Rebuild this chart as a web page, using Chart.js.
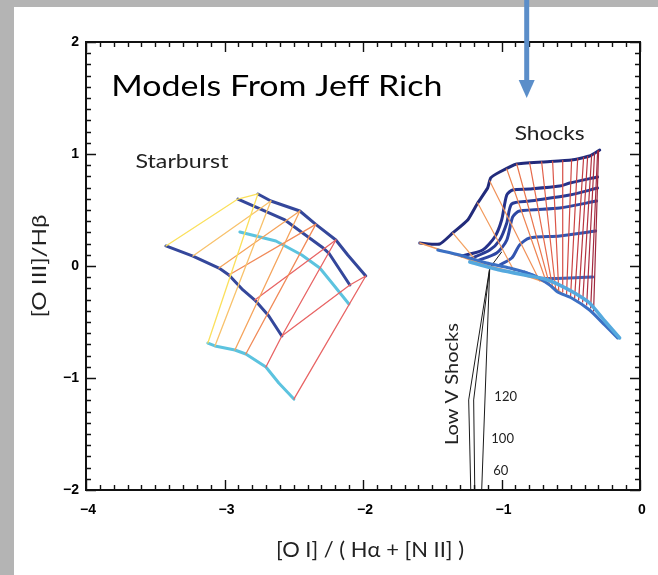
<!DOCTYPE html>
<html>
<head>
<meta charset="utf-8">
<script src="https://cdn.jsdelivr.net/npm/chart.js@4.4.1/dist/chart.umd.min.js"></script>
<style>
  html, body { margin: 0; padding: 0; background: #b4b4b4; }
  #sheet { position: absolute; left: 14px; top: 7px; width: 644px; height: 568px; background: #fff; }
  #wrap { position: absolute; left: 0; top: 0; width: 658px; height: 575px; }
</style>
</head>
<body>
<div id="sheet"></div>
<div id="wrap"><canvas id="chart" width="658" height="575"></canvas></div>
<script>
// axis ticks
const xTicks = [-4, -3, -2, -1, 0];
const yTicks = [2, 1, 0, -1, -2];

// ---- starburst grid ----
const sbRowA = [[-2.759,0.643],[-2.665,0.580],[-2.456,0.491],[-2.341,0.372],[-2.196,0.232],[-2.110,0.098],[-1.980,-0.089]];
const sbRowB = [[-2.903,0.598],[-2.564,0.411],[-2.297,0.170],[-2.247,0.116],[-2.095,-0.170]];
const sbRowC = [[-3.423,0.179],[-3.228,0.089],[-3.040,-0.018],[-2.968,-0.080],[-2.867,-0.214],[-2.781,-0.304],[-2.680,-0.446],[-2.586,-0.625]];
const sbRowD = [[-2.889,0.304],[-2.629,0.223],[-2.442,0.098],[-2.312,-0.018],[-2.218,-0.161],[-2.102,-0.339]];
const sbRowE = [[-3.120,-0.688],[-3.069,-0.714],[-2.925,-0.750],[-2.846,-0.786],[-2.701,-0.902],[-2.608,-1.045],[-2.499,-1.188]];

const sbYellow1 = [[-3.423,0.179],[-2.903,0.598],[-2.759,0.643]];
const sbYellow2 = [[-2.759,0.643],[-3.120,-0.688]];
const sbLtOrange1 = [[-3.228,0.089],[-2.665,0.580]];
const sbLtOrange2 = [[-2.665,0.580],[-3.069,-0.714]];
const sbOrange1 = [[-3.040,-0.018],[-2.456,0.491]];
const sbOrange2 = [[-2.456,0.491],[-2.925,-0.750]];
const sbDkOrange1 = [[-2.968,-0.080],[-2.341,0.372]];
const sbDkOrange2 = [[-2.341,0.372],[-2.846,-0.786]];
const sbRed1 = [[-2.781,-0.304],[-2.196,0.232]];
const sbRed2 = [[-2.196,0.232],[-2.586,-0.625],[-2.701,-0.902]];
const sbRed3 = [[-2.586,-0.625],[-2.095,-0.170]];
const sbRed4 = [[-2.095,-0.170],[-1.980,-0.089],[-2.499,-1.188]];

// ---- shock grid ----
const shTop = [[-1.590,0.205],[-1.446,0.196],[-1.352,0.295],[-1.244,0.411],[-1.172,0.563],[-1.100,0.696],[-1.078,0.786],[-1.013,0.839],[-0.890,0.911],[-0.703,0.929],[-0.494,0.946],[-0.364,0.982],[-0.291,1.036]];
const shB2 = [[-1.287,0.089],[-1.136,0.143],[-1.049,0.259],[-0.999,0.411],[-0.962,0.634],[-0.919,0.679],[-0.797,0.688],[-0.580,0.714],[-0.508,0.741],[-0.306,0.795]];
const shB3 = [[-1.229,0.062],[-1.085,0.143],[-1.013,0.232],[-0.962,0.384],[-0.926,0.554],[-0.797,0.580],[-0.508,0.634],[-0.306,0.696]];
const shB4 = [[-1.179,0.045],[-1.035,0.116],[-0.962,0.232],[-0.919,0.438],[-0.869,0.491],[-0.580,0.518],[-0.313,0.580]];
const shB5 = [[-1.013,0.009],[-0.926,0.071],[-0.869,0.188],[-0.797,0.250],[-0.580,0.268],[-0.320,0.313]];
const shB6 = [[-0.833,-0.054],[-0.724,-0.107],[-0.508,-0.107],[-0.342,-0.098]];
const shBand1 = [[-1.460,0.143],[-1.302,0.098],[-1.107,0.027],[-0.941,-0.018],[-0.775,-0.080],[-0.652,-0.170],[-0.595,-0.232],[-0.494,-0.286],[-0.364,-0.393],[-0.255,-0.527],[-0.162,-0.643]];
const shBand2 = [[-1.229,0.036],[-1.013,-0.036],[-0.797,-0.089],[-0.688,-0.116],[-0.580,-0.170],[-0.472,-0.241],[-0.364,-0.330],[-0.248,-0.500],[-0.147,-0.643]];
const shOrangeEdge = [[-1.590,0.205],[-1.374,0.116],[-1.085,0.000],[-0.869,-0.071],[-0.674,-0.152],[-0.544,-0.259]];

// shock velocity lines: top end and bottom end of each
const velTop = [[-1.352,0.295],[-1.172,0.563],[-1.085,0.759],[-0.962,0.866],[-0.890,0.911],[-0.797,0.920],[-0.710,0.929],[-0.631,0.935],[-0.558,0.941],[-0.494,0.946],[-0.450,0.958],[-0.407,0.971],[-0.378,0.979],[-0.349,0.993],[-0.328,1.009],[-0.306,1.025],[-0.299,1.030]];
const velBottom = [[-1.157,0.009],[-0.905,-0.054],[-0.724,-0.134],[-0.674,-0.152],[-0.652,-0.170],[-0.631,-0.188],[-0.609,-0.205],[-0.587,-0.214],[-0.558,-0.232],[-0.530,-0.250],[-0.501,-0.268],[-0.472,-0.286],[-0.443,-0.304],[-0.414,-0.321],[-0.385,-0.348],[-0.356,-0.375],[-0.335,-0.402]];

// low velocity shocks
const lowV1 = [[-0.999,0.125],[-1.085,-0.018],[-1.237,-1.196],[-1.229,-1.616],[-1.222,-2.0]];
const lowV2 = [[-1.085,-0.018],[-1.201,-1.196],[-1.193,-2.0]];
const lowV3 = [[-1.085,-0.018],[-1.143,-2.0]];

const velColors = ['#f3a262','#f29a5c','#f09058','#ee8452','#ea764e','#e66a4c','#e2604a','#dc5648','#d64e46','#d04844','#c94242','#c23c42','#ba3641','#b33240','#ab2e40','#a42a3f','#9e283e'];

const pts = a => a.map(p => ({x: p[0], y: p[1]}));
const datasets = [];
function addLine(arr, color, width, tension) {
  datasets.push({data: pts(arr), borderColor: color, borderWidth: width, showLine: true,
    pointRadius: 0, tension: tension || 0, fill: false, borderJoinStyle: 'round', borderCapStyle: 'round'});
}

// thin starburst lines first
addLine(sbYellow1, '#fbe05c', 1.3); addLine(sbYellow2, '#fbe05c', 1.3);
addLine(sbLtOrange1, '#f8c26c', 1.3); addLine(sbLtOrange2, '#f8c26c', 1.3);
addLine(sbOrange1, '#f5a45c', 1.3); addLine(sbOrange2, '#f5a45c', 1.3);
addLine(sbDkOrange1, '#f18a58', 1.3); addLine(sbDkOrange2, '#f18a58', 1.3);
[sbRed1, sbRed2, sbRed3, sbRed4].forEach(l => addLine(l, '#e86464', 1.3));
addLine(sbRowD, '#5cc3df', 3); addLine(sbRowE, '#5cc3df', 3);
addLine(sbRowA, '#34479b', 3); addLine(sbRowB, '#34479b', 3); addLine(sbRowC, '#34479b', 3);

// shocks
addLine(shBand2, '#55a9de', 3.5, 0.2);
addLine(shBand1, '#3b70c4', 3, 0.2);
velTop.forEach((t, i) => addLine([t, velBottom[i]], velColors[i], 1.2));
addLine(shOrangeEdge, '#f29a5a', 1.5, 0.2);
addLine(shB6, '#3a64bd', 3, 0.25); addLine(shB5, '#3355b0', 3, 0.25); addLine(shB4, '#2d47a3', 3, 0.25);
addLine(shB3, '#293c96', 3, 0.25); addLine(shB2, '#25328b', 3, 0.25); addLine(shTop, '#222b7b', 3, 0.15);
[lowV1, lowV2, lowV3].forEach(l => addLine(l, '#1a1a1a', 1));

// text on the plot, in data units
const notes = [
  {text: 'Models From Jeff Rich', x: -2.622, y: 1.598, font: '29px Lato', w: 331, color: '#000'},
  {text: 'Starburst', x: -3.307, y: 0.929, font: '19px Lato', w: 93, color: '#222'},
  {text: 'Shocks', x: -0.652, y: 1.179, font: '19px Lato', w: 70, color: '#222'},
  {text: 'Low V Shocks', x: -1.352, y: -1.054, font: '17px Lato', w: 122, color: '#222', rot: -Math.PI / 2},
  {text: '120', x: -0.970, y: -1.170, font: '13px Lato', w: 0, color: '#222'},
  {text: '100', x: -0.992, y: -1.545, font: '13px Lato', w: 0, color: '#222'},
  {text: '60', x: -1.006, y: -1.830, font: '13px Lato', w: 0, color: '#222'}
];

function drawText(ctx, text, px, py, font, w, color, rot) {
  ctx.save();
  ctx.font = font; ctx.fillStyle = color;
  ctx.textAlign = 'center'; ctx.textBaseline = 'middle';
  ctx.translate(px, py);
  if (rot) ctx.rotate(rot);
  if (w) ctx.scale(w / ctx.measureText(text).width, 1);
  ctx.fillText(text, 0, 0);
  ctx.restore();
}

const decor = {
  id: 'decor',
  afterDatasetsDraw(chart) {
    const {ctx, chartArea: a, scales: {x, y}} = chart;
    ctx.save();
    ctx.strokeStyle = '#111';
    ctx.lineWidth = 1.4;
    ctx.beginPath();
    for (let i = 0; i <= 40; i++) {
      const px = Math.round(x.getPixelForValue(-4 + i / 10)) + 0.5, len = i % 10 ? 5 : 10;
      ctx.moveTo(px, a.bottom); ctx.lineTo(px, a.bottom - len);
      ctx.moveTo(px, a.top); ctx.lineTo(px, a.top + len);
    }
    for (let i = 0; i <= 40; i++) {
      const py = Math.round(y.getPixelForValue(-2 + i / 10)) + 0.5, len = i % 10 ? 5 : 10;
      ctx.moveTo(a.left, py); ctx.lineTo(a.left + len, py);
      ctx.moveTo(a.right, py); ctx.lineTo(a.right - len, py);
    }
    ctx.stroke();
    ctx.lineWidth = 2;
    ctx.strokeRect(a.left, a.top, a.right - a.left, a.bottom - a.top);

    ctx.fillStyle = '#000';
    ctx.font = 'bold 14px "Liberation Sans"';
    ctx.textBaseline = 'middle';
    ctx.textAlign = 'center';
    xTicks.forEach(v => ctx.fillText(v < 0 ? '\u2212' + (-v) : String(v), x.getPixelForValue(v) + 2, a.bottom + 20));
    ctx.textAlign = 'right';
    yTicks.forEach(v => ctx.fillText(v < 0 ? '\u2212' + (-v) : String(v), a.left - 7, y.getPixelForValue(v)));
    ctx.restore();

    notes.forEach(n => drawText(ctx, n.text, x.getPixelForValue(n.x), y.getPixelForValue(n.y), n.font, n.w, n.color, n.rot));
    drawText(ctx, '[O I] / ( H\u03b1 + [N II] )', 370, 550, '21px Lato', 188, '#222');
    drawText(ctx, '[O III]/H\u03b2', 40, 266, '20px Lato', 103, '#222', -Math.PI / 2);

    // blue arrow from the top edge
    const ax = x.getPixelForValue(-0.818);
    ctx.save();
    ctx.strokeStyle = '#5b8ec9'; ctx.fillStyle = '#5b8ec9';
    ctx.lineWidth = 5;
    ctx.beginPath(); ctx.moveTo(ax, 0); ctx.lineTo(ax, 82); ctx.stroke();
    ctx.beginPath(); ctx.moveTo(ax - 8, 80); ctx.lineTo(ax + 8, 80); ctx.lineTo(ax, 98); ctx.closePath(); ctx.fill();
    ctx.restore();
  }
};

new Chart(document.getElementById('chart'), {
  type: 'scatter',
  data: {datasets},
  options: {
    responsive: false,
    animation: false,
    devicePixelRatio: 1,
    layout: {padding: {left: 86, top: 42, right: 18, bottom: 85}},
    plugins: {legend: {display: false}, tooltip: {enabled: false}},
    scales: {
      x: {type: 'linear', min: -4, max: 0, display: false},
      y: {type: 'linear', min: -2, max: 2, display: false}
    }
  },
  plugins: [decor]
});
</script>
</body>
</html>
